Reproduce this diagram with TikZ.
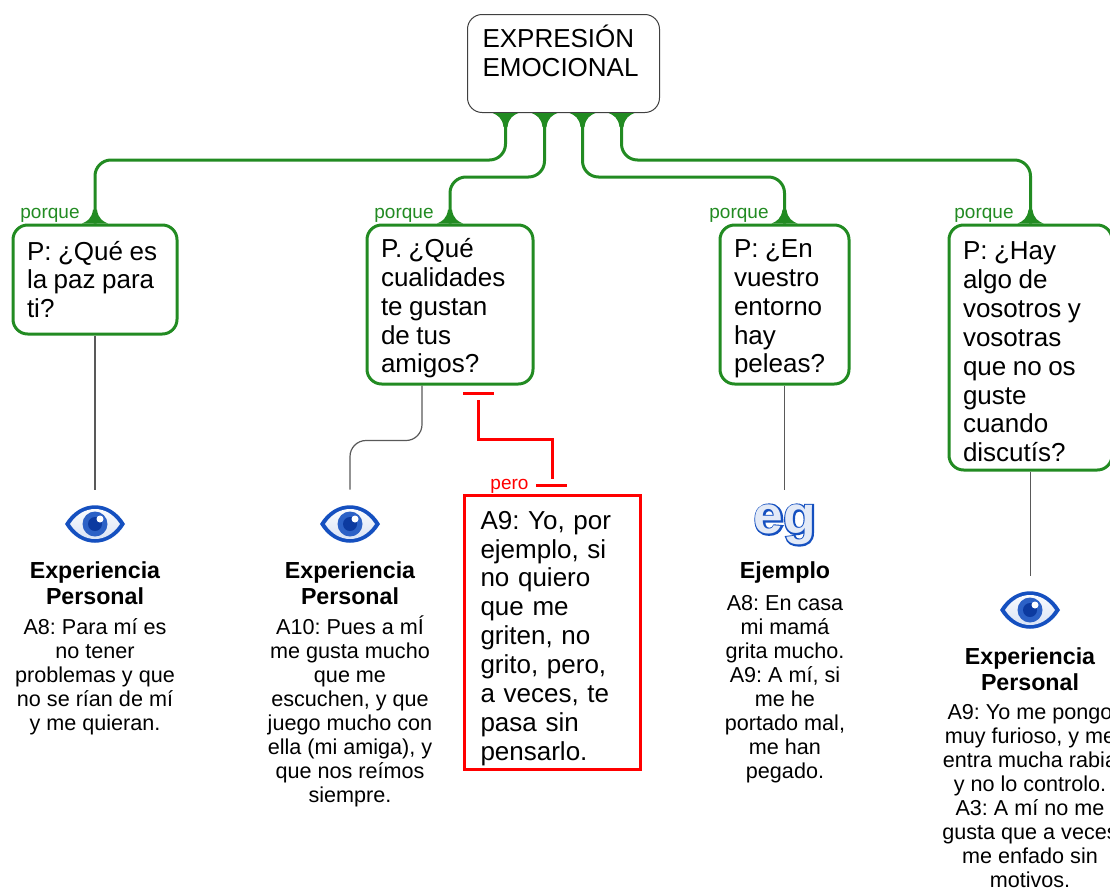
\documentclass[tikz,border=0pt]{standalone}
\usepackage{fontspec}
\setmainfont{Liberation Sans}
\newfontfamily\egfont[FakeBold=6]{Liberation Sans Bold}
\newfontfamily\egfontin{Liberation Sans Bold}
\usetikzlibrary{positioning}
\definecolor{linkgreen}{HTML}{228B22}
\definecolor{iconblue}{HTML}{1550C0}
\definecolor{icondark}{HTML}{0C3AA0}
\frenchspacing
\tikzset{
  bigtext/.style={font=\fontsize{19.5}{21.65}\selectfont},
  smalltext/.style={font=\fontsize{16.2}{18}\selectfont, align=center, inner sep=0pt},
  titletext/.style={font=\fontsize{17.4}{19.5}\selectfont\bfseries, align=center, inner sep=0pt},
  linktext/.style={font=\fontsize{14.25}{16}\selectfont, inner sep=0pt},
  qbox/.style={bigtext, draw=linkgreen, line width=2.25pt, rounded corners=11pt, anchor=north west,
    align=left, inner xsep=10.5pt, inner ysep=0pt, text width=#1*0.75pt,
    execute at begin node={\spaceskip=0.25em}},
  qstrut/.style={execute at begin node={\rule{0pt}{20pt}}},
  greenlink/.style={draw=linkgreen, line width=2.25pt, rounded corners=12pt},
  greylink/.style={draw=black!65, line width=0.9pt, rounded corners=12pt},
  redlink/.style={draw=red, line width=2.25pt},
  iconbox/.style={minimum width=45pt, minimum height=51pt, inner sep=0pt},
  flare/.pic={
    \fill[linkgreen] (-13,0) .. controls (-8,-2) and (-3,-5) .. (-2,-14) -- (2,-14)
      .. controls (3,-5) and (8,-2) .. (13,0) -- cycle;
  },
  eyeicon/.pic={
    \fill[iconblue] (-30,0) .. controls (-15,-25) and (15,-25) .. (30,0)
      .. controls (15,25) and (-15,25) .. (-30,0) -- cycle;
    \shade[top color=white, bottom color=iconblue!18] (-25,0) .. controls (-12,-20) and (12,-20) .. (25,0)
      .. controls (12,20) and (-12,20) .. (-25,0) -- cycle;
    \fill[iconblue!90!white] (0,0) circle (12.5);
    \fill[icondark] (0,0) circle (7);
    \fill[white] (5,-5) circle (3.5);
  },
}
\begin{document}
\begin{tikzpicture}[x=0.75pt, y=-0.75pt]
  \useasboundingbox (0,0) rectangle (1110,889);
  \clip (0,0) rectangle (1110,889);

  \node[bigtext, draw=black!75, line width=0.75pt, rounded corners=11pt, anchor=north west, align=left,
    inner xsep=11.25pt, inner ysep=0pt, text width=162*0.75pt, minimum height=98*0.75pt,
    execute at begin node={\rule{0pt}{23pt}}] (root) at (467,14)
    {EXPRESIÓN\\EMOCIONAL\\[4pt]\mbox{}};

  \node[qbox=136, minimum height=109*0.75pt] (q1) at (11.5,223.5) {P: ¿Qué es\\la paz para\\ti?};
  \node[qbox=138, qstrut, minimum height=159*0.75pt] (q2) at (365.5,223.5) {P. ¿Qué\\cualidades\\te gustan\\de tus\\amigos?};
  \node[qbox=101, qstrut, minimum height=159*0.75pt] (q3) at (718.5,223.5) {P: ¿En\\vuestro\\entorno\\hay\\peleas?};
  \node[qbox=135, qstrut, minimum height=245*0.75pt] (q4) at (947.5,223.5) {P: ¿Hay\\algo de\\vosotros y\\vosotras\\que no os\\guste\\cuando\\discutís?};

  \draw[greenlink] ([xshift=-43.5pt]root.south) -- ++(0,47) -| (q1.north);
  \draw[greenlink] ([xshift=-14.25pt]root.south) -- ++(0,64) -| (q2.north);
  \draw[greenlink] ([xshift=14.25pt]root.south) -- ++(0,64) -| (q3.north);
  \draw[greenlink] ([xshift=43.5pt]root.south) -- ++(0,47) -| (q4.north);

  \foreach \Shift in {-43.5,-14.25,14.25,43.5}
    \pic[yscale=-1] at ([xshift=\Shift pt]root.south) {flare};
  \foreach \Box in {q1,q2,q3,q4}
    \pic at (\Box.north) {flare};

  \node[linktext, text=linkgreen] (porque1) at (50,215) {porque};
  \node[linktext, text=linkgreen] (porque2) at (404,215) {porque};
  \node[linktext, text=linkgreen] (porque3) at (739,215) {porque};
  \node[linktext, text=linkgreen] (porque4) at (984,215) {porque};

  % icons
  \foreach \IconX/\IconY/\IconName in {95/524/eye1, 350/524/eye2, 1030/610/eye4} {
    \node[iconbox] (\IconName) at (\IconX,\IconY) {};
    \pic at (\IconName) {eyeicon};
  }
  \node[iconbox] (eg3) at (785,524) {};
  \node[text=iconblue, font=\fontsize{40}{40}\egfont, inner sep=0pt] (egback) at (785,525) {eg};
  \node[text=iconblue!12, font=\fontsize{40}{40}\egfontin, inner sep=0pt] (egfront) at (785,525) {eg};

  \draw[greylink] (q1.south) -- (q1.south |- eye1.north);
  \draw[greylink] ([xshift=-21pt]q2.south) -- ++(0,55) -| (eye2.north);
  \draw[greylink] (q3.south) -- (q3.south |- eg3.north);
  \draw[greylink] (q4.south) -- (q4.south |- eye4.north);

  \node[titletext] (title1) at (95,583) {Experiencia\\Personal};
  \node[titletext] (title2) at (350,583) {Experiencia\\Personal};
  \node[titletext] (title3) at (785,572) {Ejemplo};
  \node[titletext] (title4) at (1030,669) {Experiencia\\Personal};

  \node[smalltext] (text1) at (95,677) {A8: Para mí es\\no tener\\problemas y que\\no se rían de mí\\y me quieran.};
  \node[smalltext] (text2) at (350,711) {A10: Pues a mÍ\\me gusta mucho\\que me\\escuchen, y que\\juego mucho con\\ella (mi amiga), y\\que nos reímos\\siempre.};
  \node[smalltext] (text3) at (785,689) {A8: En casa\\mi mamá\\grita mucho.\\A9: A mí, si\\me he\\portado mal,\\me han\\pegado.};
  \node[smalltext] (text4) at (1030,796) {A9: Yo me pongo\\muy furioso, y me\\entra mucha rabia\\y no lo controlo.\\A3: A mí no me\\gusta que a veces\\me enfado sin\\motivos.};

  \node[bigtext, draw=red, line width=2.25pt, anchor=north west, align=left, inner xsep=12pt, inner ysep=0pt,
    text width=144*0.75pt, minimum height=274*0.75pt, execute at begin node={\rule{0pt}{23pt}}] (a9) at (463,493.5)
    {A9: Yo, por\\ejemplo, si\\no quiero\\que me\\griten, no\\grito, pero,\\a veces, te\\pasa sin\\pensarlo.};

  \node[fill=red, minimum width=31*0.75pt, minimum height=3*0.75pt, inner sep=0pt] (bartop) at (478.5,393) {};
  \node[fill=red, minimum width=31*0.75pt, minimum height=3*0.75pt, inner sep=0pt] (barbottom) at (551.5,485) {};
  \coordinate (redstart) at (478,400);
  \coordinate (redend) at (552,479);
  \draw[redlink] (redstart) |- (515,439) -| (redend);
  \node[linktext, text=red] (pero) at (509.5,486) {pero};
\end{tikzpicture}
\end{document}
